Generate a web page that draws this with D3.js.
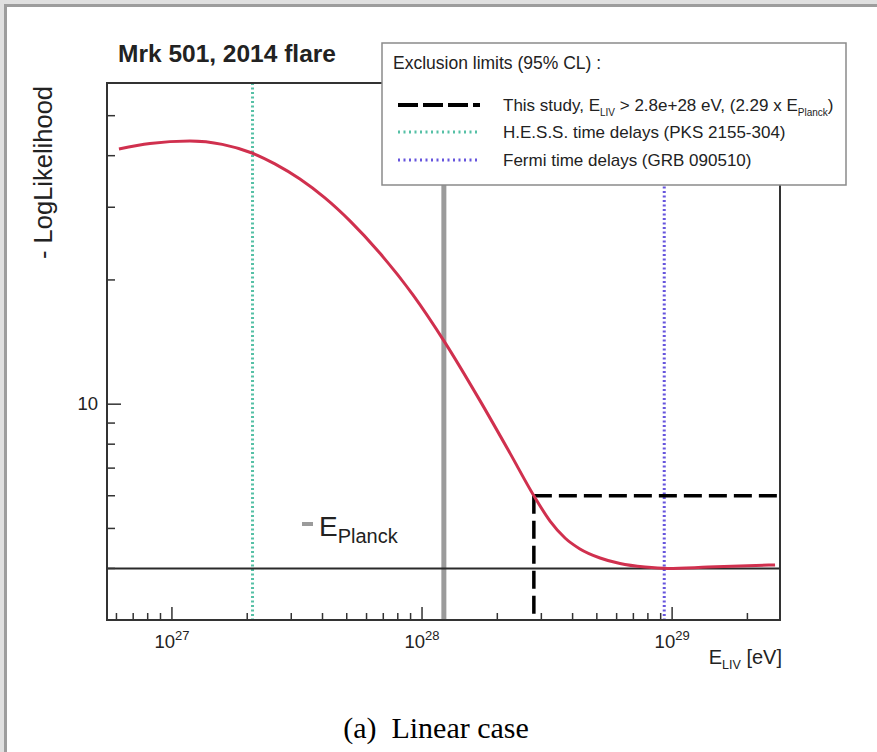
<!DOCTYPE html>
<html>
<head>
<meta charset="utf-8">
<script src="https://cdn.jsdelivr.net/npm/d3@7"></script>
<style>
  html, body { margin: 0; padding: 0; background: #fff; }
  svg { display: block; }
</style>
</head>
<body>
<svg id="chart" width="877" height="752"></svg>
<script>
// -LogLikelihood profile versus the LIV energy scale (Mrk 501, 2014 flare)
const energies = [6.14e26, 8.17e26, 1.18e27, 1.59e27, 2.09e27, 2.58e27, 3.25e27, 4.09e27,
                  5.15e27, 6.79e27, 9.2e27, 1.236e28, 1.705e28, 2.25e28, 2.8e28, 3.25e28,
                  3.73e28, 4.28e28, 5.15e28, 6.19e28, 7.79e28, 9.63e28, 1.39e29, 2.58e29];
const negLogL  = [41.5, 42.8, 43.4, 42.6, 40.6, 38.2, 35.1, 31.6,
                  27.8, 23.2, 18.4, 14.1, 10.2, 7.6, 6.0, 5.21,
                  4.74, 4.46, 4.24, 4.11, 4.03, 4.0, 4.03, 4.08];

// Reference energies and levels
const eLimit = 2.8e28;          // this study, 95% CL lower limit
const planckFactor = 2.29;      // limit expressed in units of E_Planck
const ePlanck = eLimit / planckFactor;
const eHESS = 2.1e27;           // H.E.S.S. PKS 2155-304
const eFermi = 9.3e28;          // Fermi GRB 090510
const levelMin = 4.0;           // minimum of -LogL
const levelLimit = 6.0;         // -LogL at the limit

// Axes
const xDomain = [5.5e26, 2.7e29];
const yDomain = [3, 60];
const xMajorTicks = [1e27, 1e28, 1e29];
const xMajorExponents = ["27", "28", "29"];
const yMajorTicks = [10];
const yMajorLabels = ["10"];
const yMinorTicks = [4, 5, 6, 7, 8, 9, 20, 30, 40, 50];

// Legend
const legendHeader = "Exclusion limits (95% CL) :";
const legendKeys = ["limit", "hess", "fermi"];

const svg = d3.select("#chart");
const W = 877, H = 752;
const plot = { left: 107, right: 780, top: 83, bottom: 620 };

const x = d3.scaleLog().domain(xDomain).range([plot.left, plot.right]);
const y = d3.scaleLog().domain(yDomain).range([plot.bottom, plot.top]);

const FONT = "'Liberation Sans', Arial, Helvetica, sans-serif";
const INK = "#222";

// page background and border strips
svg.append("rect").attr("width", W).attr("height", H).attr("fill", "#fff");
svg.append("rect").attr("x", 0).attr("y", 0).attr("width", W).attr("height", 4).attr("fill", "#e0e0e0");
svg.append("rect").attr("x", 0).attr("y", 0).attr("width", 4).attr("height", H).attr("fill", "#e0e0e0");
svg.append("rect").attr("x", 4).attr("y", 4).attr("width", W - 4).attr("height", 3).attr("fill", "#9d9d9d");
svg.append("rect").attr("x", 4).attr("y", 4).attr("width", 3).attr("height", H - 4).attr("fill", "#9d9d9d");

const g = svg.append("g");

// clip to plot frame
svg.append("clipPath").attr("id", "frameClip")
  .append("rect").attr("x", plot.left).attr("y", plot.top)
  .attr("width", plot.right - plot.left).attr("height", plot.bottom - plot.top);
const inner = g.append("g").attr("clip-path", "url(#frameClip)");

// E_Planck
inner.append("line")
  .attr("x1", x(ePlanck)).attr("x2", x(ePlanck))
  .attr("y1", plot.top).attr("y2", plot.bottom)
  .attr("stroke", "#9b9b9b").attr("stroke-width", 5);

// H.E.S.S. and Fermi limits
inner.append("line")
  .attr("x1", x(eHESS)).attr("x2", x(eHESS))
  .attr("y1", plot.top).attr("y2", plot.bottom)
  .attr("stroke", "#55c0a5").attr("stroke-width", 3).attr("stroke-dasharray", "2,2.5");
inner.append("line")
  .attr("x1", x(eFermi)).attr("x2", x(eFermi))
  .attr("y1", plot.top).attr("y2", plot.bottom)
  .attr("stroke", "#6655dd").attr("stroke-width", 3).attr("stroke-dasharray", "2,2.5");

// minimum level
inner.append("line")
  .attr("x1", plot.left).attr("x2", plot.right)
  .attr("y1", y(levelMin)).attr("y2", y(levelMin))
  .attr("stroke", "#2a2a2a").attr("stroke-width", 2);

// limit construction (dashed)
inner.append("line")
  .attr("x1", x(eLimit)).attr("x2", x(eLimit))
  .attr("y1", y(levelLimit)).attr("y2", plot.bottom)
  .attr("stroke", "#000").attr("stroke-width", 3.5).attr("stroke-dasharray", "18,7");
inner.append("line")
  .attr("x1", x(eLimit)).attr("x2", plot.right)
  .attr("y1", y(levelLimit)).attr("y2", y(levelLimit))
  .attr("stroke", "#000").attr("stroke-width", 3.5).attr("stroke-dasharray", "18,7");

// likelihood curve
const line = d3.line()
  .x((d, i) => x(energies[i]))
  .y(d => y(d))
  .curve(d3.curveMonotoneX);
inner.append("path")
  .datum(negLogL)
  .attr("d", line)
  .attr("fill", "none")
  .attr("stroke", "#d0304e")
  .attr("stroke-width", 3);

// frame
g.append("rect")
  .attr("x", plot.left).attr("y", plot.top)
  .attr("width", plot.right - plot.left).attr("height", plot.bottom - plot.top)
  .attr("fill", "none").attr("stroke", "#333").attr("stroke-width", 2);

// x ticks (inside, pointing up)
const xMinor = [];
for (let dec = 1e26; dec <= 1e29; dec *= 10) {
  for (let k = 2; k <= 9; k++) {
    const v = k * dec;
    if (v > xDomain[0] && v < xDomain[1]) xMinor.push(v);
  }
}
g.selectAll(".xminor").data(xMinor).enter().append("line")
  .attr("x1", d => x(d)).attr("x2", d => x(d))
  .attr("y1", plot.bottom).attr("y2", plot.bottom - 7)
  .attr("stroke", "#333").attr("stroke-width", 1.5);
g.selectAll(".xmajor").data(xMajorTicks).enter().append("line")
  .attr("x1", d => x(d)).attr("x2", d => x(d))
  .attr("y1", plot.bottom).attr("y2", plot.bottom - 13)
  .attr("stroke", "#333").attr("stroke-width", 1.5);

const xLab = g.selectAll(".xlab").data(xMajorTicks).enter().append("text")
  .attr("x", d => x(d)).attr("y", plot.bottom + 28)
  .attr("text-anchor", "middle")
  .attr("font-family", FONT).attr("font-size", 18.5).attr("fill", INK);
xLab.append("tspan").text("10");
xLab.append("tspan").attr("font-size", 13).attr("dy", -8).text((d, i) => xMajorExponents[i]);

// y ticks (inside, pointing right)
g.selectAll(".yminor").data(yMinorTicks).enter().append("line")
  .attr("x1", plot.left).attr("x2", plot.left + 8)
  .attr("y1", d => y(d)).attr("y2", d => y(d))
  .attr("stroke", "#333").attr("stroke-width", 1.5);
g.selectAll(".ymajor").data(yMajorTicks).enter().append("line")
  .attr("x1", plot.left).attr("x2", plot.left + 14)
  .attr("y1", d => y(d)).attr("y2", d => y(d))
  .attr("stroke", "#333").attr("stroke-width", 1.5);
g.selectAll(".ylab").data(yMajorTicks).enter().append("text")
  .attr("x", plot.left - 9).attr("y", d => y(d) + 6)
  .attr("text-anchor", "end")
  .attr("font-family", FONT).attr("font-size", 18.5).attr("fill", INK)
  .text((d, i) => yMajorLabels[i]);

// axis titles
const xt = g.append("text")
  .attr("x", plot.right + 2).attr("y", plot.bottom + 44)
  .attr("text-anchor", "end")
  .attr("font-family", FONT).attr("font-size", 20).attr("fill", INK);
xt.append("tspan").text("E");
xt.append("tspan").attr("font-size", 12.5).attr("dy", 5).text("LIV");
xt.append("tspan").attr("dy", -5).text(" [eV]");

g.append("text")
  .attr("transform", `translate(52, ${plot.top + 3}) rotate(-90)`)
  .attr("text-anchor", "end")
  .attr("font-family", FONT).attr("font-size", 25.5).attr("fill", INK)
  .text("- LogLikelihood");

// E_Planck annotation
const ann = g.append("g");
ann.append("line")
  .attr("x1", 302).attr("x2", 313)
  .attr("y1", 524).attr("y2", 524)
  .attr("stroke", "#9b9b9b").attr("stroke-width", 4);
const annT = ann.append("text")
  .attr("x", 319).attr("y", 536)
  .attr("font-family", FONT).attr("font-size", 28).attr("fill", INK);
annT.append("tspan").text("E");
annT.append("tspan").attr("font-size", 20).attr("dy", 7).text("Planck");

// title
g.append("text")
  .attr("x", 118).attr("y", 62)
  .attr("font-family", FONT).attr("font-size", 24.5).attr("font-weight", "bold")
  .attr("fill", INK)
  .text("Mrk 501, 2014 flare");

// legend
const lg = g.append("g");
lg.append("rect")
  .attr("x", 382).attr("y", 43).attr("width", 464).attr("height", 142)
  .attr("fill", "#fff").attr("stroke", "#8a8a8a").attr("stroke-width", 1.5);
lg.append("text")
  .attr("x", 393).attr("y", 69)
  .attr("font-family", FONT).attr("font-size", 17.5).attr("fill", INK)
  .text(legendHeader);

const rowY = [105, 132, 160];
const sampleStyle = {
  limit: { stroke: "#000", width: 4, dash: "20,5" },
  hess:  { stroke: "#55c0a5", width: 3, dash: "2,3.5" },
  fermi: { stroke: "#6655dd", width: 3, dash: "2,3.5" }
};
legendKeys.forEach((k, i) => {
  const s = sampleStyle[k];
  lg.append("line")
    .attr("x1", 398).attr("x2", 480)
    .attr("y1", rowY[i]).attr("y2", rowY[i])
    .attr("stroke", s.stroke).attr("stroke-width", s.width).attr("stroke-dasharray", s.dash);
});

const t1 = lg.append("text").attr("x", 503).attr("y", rowY[0] + 6)
  .attr("font-family", FONT).attr("font-size", 17).attr("fill", INK);
t1.append("tspan").text("This study, E");
t1.append("tspan").attr("font-size", 10).attr("dy", 5).text("LIV");
t1.append("tspan").attr("dy", -5).text(` > ${d3.format(".1e")(eLimit)} eV, (${planckFactor} x E`);
t1.append("tspan").attr("font-size", 10).attr("dy", 5).text("Planck");
t1.append("tspan").attr("dy", -5).text(")");

lg.append("text").attr("x", 503).attr("y", rowY[1] + 6)
  .attr("font-family", FONT).attr("font-size", 17).attr("fill", INK)
  .text("H.E.S.S. time delays (PKS 2155-304)");
lg.append("text").attr("x", 503).attr("y", rowY[2] + 6)
  .attr("font-family", FONT).attr("font-size", 17).attr("fill", INK)
  .text("Fermi time delays (GRB 090510)");

// caption
svg.append("text")
  .attr("x", 436).attr("y", 738)
  .attr("text-anchor", "middle")
  .attr("font-family", "'Liberation Serif', 'Times New Roman', serif")
  .attr("font-size", 30).attr("fill", "#000")
  .text("(a)\u00a0 Linear case");
</script>
</body>
</html>
